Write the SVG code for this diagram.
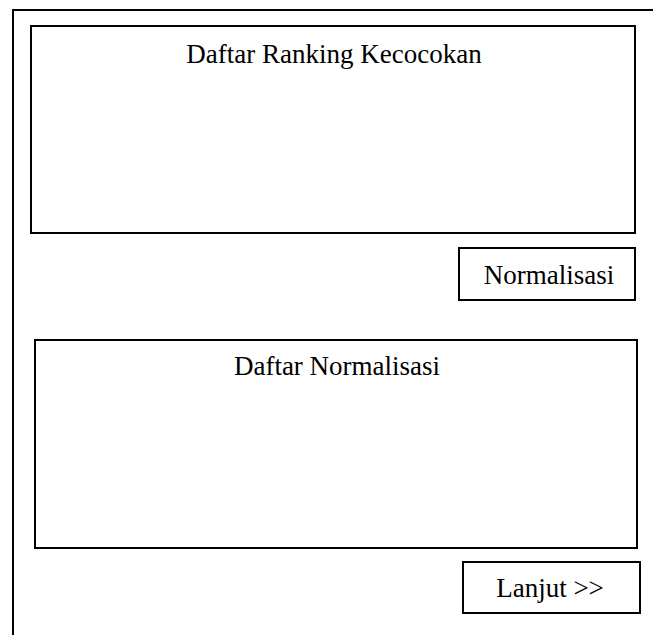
<svg xmlns="http://www.w3.org/2000/svg" width="653" height="635" viewBox="0 0 653 635">
  <style>
    .box { fill: #fff; stroke: #000; stroke-width: 2; }
    .frame { fill: none; stroke: #000; stroke-width: 2; }
    .label { font-family: "Liberation Serif", "Times New Roman", serif; font-size: 27px; fill: #000; text-anchor: middle; }
  </style>
  <rect width="653" height="635" fill="#fff"/>
  <!-- window frame: left and top edges -->
  <g id="frame">
    <polyline class="frame" points="13,635 13,10 653,10"/>
  </g>
  <g id="daftar-ranking">
    <rect class="box" x="31" y="26" width="604" height="207"/>
    <text class="label" x="334" y="63">Daftar Ranking Kecocokan</text>
  </g>
  <g id="btn-normalisasi">
    <rect class="box" x="459" y="248" width="176" height="52"/>
    <text class="label" x="549" y="284">Normalisasi</text>
  </g>
  <g id="daftar-normalisasi">
    <rect class="box" x="35" y="340" width="602" height="208"/>
    <text class="label" x="337" y="375">Daftar Normalisasi</text>
  </g>
  <g id="btn-lanjut">
    <rect class="box" x="463" y="562" width="177" height="51"/>
    <text class="label" x="550" y="597">Lanjut &gt;&gt;</text>
  </g>
  <g id="connectors"/>
</svg>
